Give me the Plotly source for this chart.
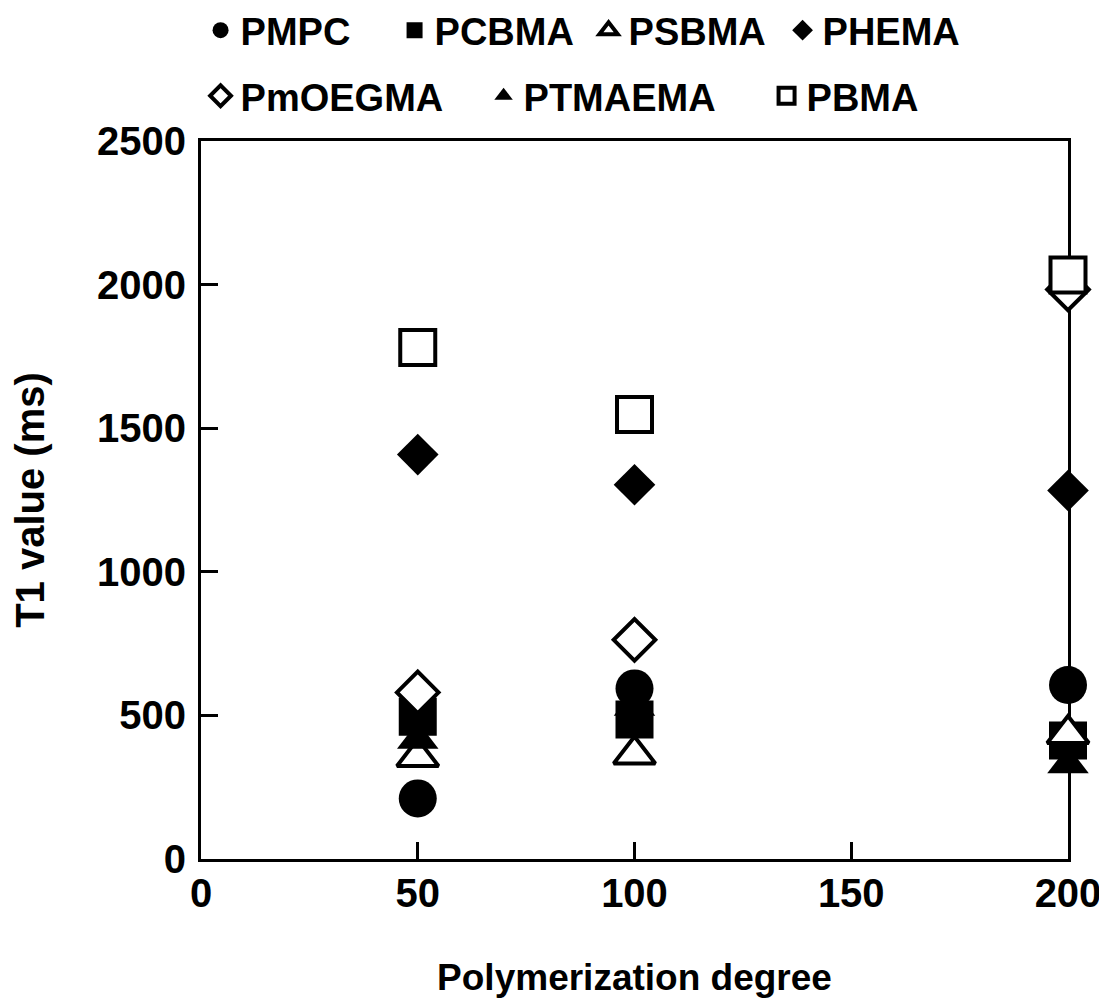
import plotly.graph_objects as go

degree = [50, 100, 200]
names = ["PMPC", "PCBMA", "PSBMA", "PHEMA", "PmOEGMA", "PTMAEMA", "PBMA"]
pmpc = [211, 594, 606]
pcbma = [495, 486, 413]
psbma = [355, 364, 435]
phema = [1408, 1303, 1283]
pmoegma = [580, 763, 1983]
ptmaema = [415, 530, 330]
pbma = [1781, 1548, 2033]

values = [pmpc, pcbma, psbma, phema, pmoegma, ptmaema, pbma]
symbols = ["circle", "square", "triangle-up", "diamond", "diamond", "triangle-up", "square"]
filled = [True, True, False, True, False, True, False]
sizes = [38, 38, 36, 32, 32, 36, 35]
legend_ids = ["legend", "legend", "legend", "legend", "legend2", "legend2", "legend2"]

FONT = "Liberation Sans, Arial, sans-serif"

fig = go.Figure()
for name, vals, sym, fl, sz, lg in zip(names, values, symbols, filled, sizes, legend_ids):
    fig.add_trace(go.Scatter(
        x=degree, y=vals, name=name, mode="markers", legend=lg,
        cliponaxis=False,
        marker=dict(symbol=sym, size=sz,
                    color="black" if fl else "white",
                    line=dict(color="black", width=0 if fl else 4)),
    ))

axis_common = dict(
    showline=True, linecolor="black", linewidth=3, mirror=True,
    ticks="inside", ticklen=17, tickwidth=3, tickcolor="black",
    showgrid=False, zeroline=False, layer="below traces", automargin=False,
    tickfont=dict(family=FONT, size=40, color="black", weight="bold"),
)

fig.update_layout(
    width=1099, height=999,
    margin=dict(l=193, r=39, t=133, b=148, autoexpand=False),
    paper_bgcolor="white", plot_bgcolor="white",
    xaxis=dict(range=[0, 200], tickvals=[0, 50, 100, 150, 200], ticklabelstandoff=-3,
               title=dict(text="<b>Polymerization degree</b>", standoff=51,
                          font=dict(family=FONT, size=37, color="black")),
               **axis_common),
    yaxis=dict(range=[0, 2500], tickvals=[0, 500, 1000, 1500, 2000, 2500], ticklabelstandoff=4,
               title=dict(text="<b>T1 value (ms)</b>", standoff=43,
                          font=dict(family=FONT, size=40, color="black")),
               **axis_common),
    legend=dict(orientation="h", x=-0.0005, y=1.1978, xanchor="left", yanchor="top",
                entrywidth=149, entrywidthmode="pixels",
                font=dict(family=FONT, size=38, color="black", weight="bold"),
                bgcolor="rgba(0,0,0,0)", tracegroupgap=0),
    legend2=dict(orientation="h", x=-0.0005, y=1.1065, xanchor="left", yanchor="top",
                 entrywidth=238, entrywidthmode="pixels",
                 font=dict(family=FONT, size=38, color="black", weight="bold"),
                 bgcolor="rgba(0,0,0,0)"),
)

fig.write_html("out.html")
